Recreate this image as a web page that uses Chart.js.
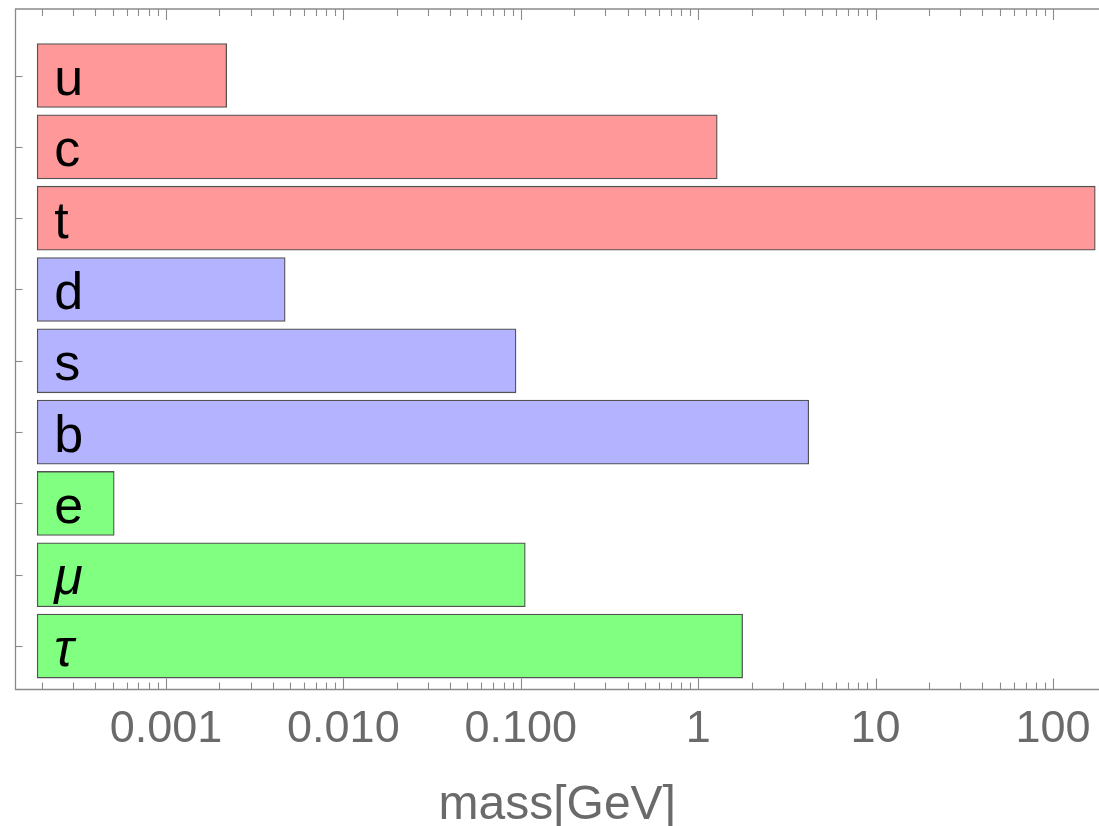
<!DOCTYPE html>
<html>
<head>
<meta charset="utf-8">
<script src="https://cdn.jsdelivr.net/npm/chart.js@4"></script>
<style>
  html, body { margin: 0; padding: 0; background: #fff; }
  #wrap { width: 1099px; height: 826px; position: relative; }
</style>
</head>
<body>
<div id="wrap"><canvas id="massChart"></canvas></div>
<script>
// Data
const categories = ["u", "c", "t", "d", "s", "b", "e", "μ", "τ"];
const masses = [0.0022, 1.28, 173, 0.0047, 0.094, 4.2, 0.000511, 0.106, 1.78]; // GeV
const families = ["up", "up", "up", "down", "down", "down", "lepton", "lepton", "lepton"];
const barBase = 0.000188;
const majorTicks = [0.001, 0.01, 0.1, 1, 10, 100];
const majorTickLabels = ["0.001", "0.010", "0.100", "1", "10", "100"];

const familyColors = { up: "#ff9999", down: "#b3b3ff", lepton: "#80ff80" };
const axisGray = "#8a8a8a";
const labelGray = "#6a6a6a";

// Frame, inward ticks and in-bar labels (Mathematica style)
const frameAndLabels = {
    id: "frameAndLabels",
    afterDatasetsDraw(chart) {
        const { ctx, chartArea: a, scales: { x, y } } = chart;
        ctx.save();
        ctx.strokeStyle = axisGray;
        ctx.lineWidth = 1.3;
        ctx.beginPath();
        ctx.moveTo(a.right + 5, a.top);
        ctx.lineTo(a.left, a.top);
        ctx.lineTo(a.left, a.bottom);
        ctx.lineTo(a.right + 5, a.bottom);
        ctx.stroke();

        // x ticks on top and bottom edges
        ctx.lineWidth = 1.1;
        const drawXTick = (v, len) => {
            if (v < x.min || v > x.max) return;
            const px = Math.round(x.getPixelForValue(v)) + 0.5;
            ctx.beginPath();
            ctx.moveTo(px, a.bottom);
            ctx.lineTo(px, a.bottom - len);
            ctx.moveTo(px, a.top);
            ctx.lineTo(px, a.top + len);
            ctx.stroke();
        };
        for (let k = -4; k <= 2; k++) {
            for (let m = 2; m <= 9; m++) {
                drawXTick(m * Math.pow(10, k), 7);
            }
        }
        majorTicks.forEach(v => drawXTick(v, 11));

        // y ticks at category centres
        categories.forEach((c, i) => {
            const py = Math.round(y.getPixelForValue(i)) + 0.5;
            ctx.beginPath();
            ctx.moveTo(a.left, py);
            ctx.lineTo(a.left + 7, py);
            ctx.stroke();
        });

        // labels inside the bars
        const meta = chart.getDatasetMeta(0);
        ctx.fillStyle = "#000";
        ctx.textBaseline = "alphabetic";
        ctx.textAlign = "left";
        meta.data.forEach((bar, i) => {
            const greek = /[α-ω]/.test(categories[i]);
            ctx.font = (greek ? "italic " : "") + "52px 'Liberation Sans', Arial, sans-serif";
            ctx.fillText(categories[i], bar.base + 17, bar.y + 19.5);
        });
        ctx.restore();
    }
};

const barData = categories.map((c, i) => ({ x: [barBase, masses[i]], y: i }));

const massChart = new Chart(document.getElementById("massChart").getContext("2d"), {
    type: "bar",
    data: {
        datasets: [{
            data: barData,
            backgroundColor: families.map(f => familyColors[f]),
            borderColor: "rgba(40, 40, 40, 0.8)",
            borderWidth: 1.3,
            borderSkipped: false,
            barThickness: 64,
        }],
    },
    options: {
        indexAxis: "y",
        responsive: true,
        maintainAspectRatio: false,
        animation: false,
        devicePixelRatio: 1,
        layout: { padding: { left: 15.5, top: 9, right: 0, bottom: 0 } },
        plugins: {
            legend: { display: false },
            tooltip: { enabled: false },
        },
        scales: {
            x: {
                type: "logarithmic",
                position: "bottom",
                min: 0.0001419,
                max: 181.6,
                bounds: "data",
                grid: { display: false },
                border: { display: false },
                afterBuildTicks: scale => {
                    scale.ticks = majorTicks.map(v => ({ value: v }));
                },
                ticks: {
                    autoSkip: false,
                    maxRotation: 0,
                    padding: 5.5,
                    color: labelGray,
                    font: { family: "'Liberation Sans', Arial, sans-serif", size: 45 },
                    callback: (value) => {
                        const idx = majorTicks.findIndex(t => Math.abs(Math.log10(t) - Math.log10(value)) < 1e-6);
                        return idx >= 0 ? majorTickLabels[idx] : "";
                    },
                },
                title: {
                    display: true,
                    text: "mass[GeV]",
                    color: labelGray,
                    font: { family: "'Liberation Sans', Arial, sans-serif", size: 48, lineHeight: 0.833 },
                    padding: { top: 23.5, bottom: 0 },
                },
            },
            y: {
                type: "linear",
                display: false,
                reverse: true,
                offset: false,
                min: -0.933,
                max: 8.609,
            },
        },
    },
    plugins: [frameAndLabels],
});
</script>
</body>
</html>
